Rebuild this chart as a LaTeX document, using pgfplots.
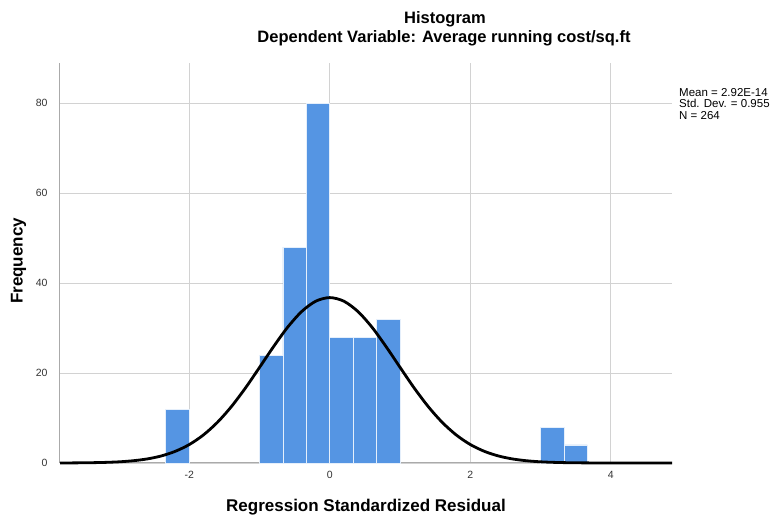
\documentclass[border=0pt]{standalone}
\usepackage{pgfplots}
\pgfplotsset{compat=1.18}
\usepackage{fontspec}
\setmainfont{Liberation Sans}

\definecolor{barblue}{RGB}{85,149,227}
\definecolor{gridgray}{RGB}{210,210,210}
\definecolor{axisgray}{RGB}{170,170,170}

\begin{document}
\begin{tikzpicture}[x=1pt,y=1pt]
\path[use as bounding box] (0,0) rectangle (772,519);

\begin{axis}[
  at={(60pt,56pt)}, anchor=south west,
  scale only axis, width=612pt, height=400pt,
  xmin=-3.84, xmax=4.87, ymin=0, ymax=88.9,
  axis x line=bottom, axis y line=left,
  axis line style={axisgray, line width=1pt, -},
  xtick={-2,0,2,4}, ytick={0,20,40,60,80},
  major tick length=0pt,
  grid=major, grid style={gridgray, line width=0.9pt},
  /pgf/number format/assume math mode=true,
  tick label style={font=\fontsize{10.5}{12}\selectfont, text=black!80},
  xticklabel style={yshift=-5pt},
  yticklabel style={xshift=-9pt},
  clip=false,
]
% frequencies per bin (bin width 1/3)
\addplot[ybar, bar width=0.3333, fill=barblue, draw=white!85!barblue, line width=0.8pt]
  coordinates {
    (-2.1667,12) (-0.8333,24) (-0.5,48) (-0.1667,80) (0.1667,28)
    (0.5,28) (0.8333,32) (3.1667,8) (3.5,4)
  };
% fitted normal density, mean 0, sd 0.955, N 264
\addplot[black, line width=2.8pt, smooth] coordinates {
  (-3.84,0.0) (-3.6,0.030) (-3.4,0.065) (-3.2,0.134) (-3.0,0.26)
  (-2.8,0.50) (-2.6,0.90) (-2.4,1.56) (-2.2,2.59) (-2.0,4.10)
  (-1.8,6.22) (-1.6,9.03) (-1.4,12.55) (-1.2,16.69) (-1.0,21.25)
  (-0.8,25.88) (-0.6,30.18) (-0.4,33.67) (-0.2,35.96) (0,36.76)
  (0.2,35.96) (0.4,33.67) (0.6,30.18) (0.8,25.88) (1.0,21.25)
  (1.2,16.69) (1.4,12.55) (1.6,9.03) (1.8,6.22) (2.0,4.10)
  (2.2,2.59) (2.4,1.56) (2.6,0.90) (2.8,0.50) (3.0,0.26)
  (3.2,0.134) (3.4,0.065) (3.6,0.030) (3.8,0.013) (4.0,0.005)
  (4.4,0.0) (4.87,0.0)
};
\end{axis}

% titles
\node[anchor=base, font=\fontsize{16.5}{18}\selectfont\bfseries] at (445,495.7) {Histogram};
\node[anchor=base, font=\fontsize{16.5}{18}\selectfont\bfseries] at (444,476.5) {Dependent Variable: Average running cost/sq.ft};
% axis titles
\node[anchor=base, font=\fontsize{17}{19}\selectfont\bfseries] at (366,7) {Regression Standardized Residual};
\node[rotate=90, font=\fontsize{17}{19}\selectfont\bfseries] at (18.5,258) {Frequency};
% summary statistics
\node[anchor=base west, font=\fontsize{11.5}{13}\selectfont, inner sep=0pt] at (679,422.3) {Mean = 2.92E-14};
\node[anchor=base west, font=\fontsize{11.5}{13}\selectfont, inner sep=0pt] at (679,411) {Std. Dev. = 0.955};
\node[anchor=base west, font=\fontsize{11.5}{13}\selectfont, inner sep=0pt] at (679,399.7) {N = 264};
\end{tikzpicture}
\end{document}
